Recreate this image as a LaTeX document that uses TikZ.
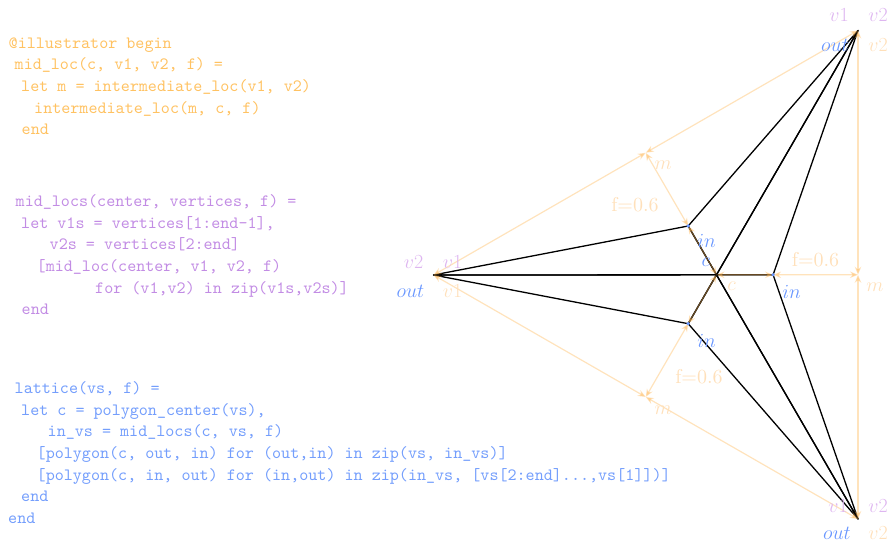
\RequirePackage{fix-cm}
\documentclass[tikz,border=0pt]{standalone}
\usepackage{fontspec}
\newfontfamily\codefont{lmmono10-regular.otf}
\newfontfamily\labfont{lmroman10-regular.otf}
\usetikzlibrary{calc,arrows.meta}
\definecolor{codeor}{RGB}{255,194,98}
\definecolor{codepu}{RGB}{194,140,228}
\definecolor{codebl}{RGB}{116,158,252}
\definecolor{annor}{RGB}{255,184,88}
\definecolor{labor}{RGB}{255,224,186}
\definecolor{labpu}{RGB}{222,182,240}
\definecolor{labbl}{RGB}{104,150,255}
\tikzset{
  code/.style={anchor=base west, inner sep=0pt, font=\fontsize{17.25}{20}\selectfont\codefont},
  lab/.style={inner sep=0pt, anchor=center, font=\fontsize{20}{23}\selectfont\labfont},
  edge/.style={draw=black, line width=1.3pt, line join=round},
  ann/.style={draw=annor, opacity=0.4, line width=1.2pt,
    {Stealth[length=8pt,width=6.5pt]}-{Stealth[length=8pt,width=6.5pt]}},
  dot/.style={fill=labbl},
}
\begin{document}
\begin{tikzpicture}[x=1pt,y=-1pt]
\useasboundingbox (0,0) rectangle (889,545);
% ---- code, block 1
\node[code, text=codeor] (t1) at (8.5,48.3) {@illustrator begin};
\node[code, text=codeor] (t2) at (14.5,70) {mid\_loc(c, v1, v2, f) =};
\node[code, text=codeor] (t3) at (21,91.7) {let m = intermediate\_loc(v1, v2)};
\node[code, text=codeor] (t4) at (34,113.3) {intermediate\_loc(m, c, f)};
\node[code, text=codeor] (t5) at (21.5,135) {end};
% ---- block 2
\node[code, text=codepu] (t6) at (15.5,206.7) {mid\_locs(center, vertices, f) =};
\node[code, text=codepu] (t7) at (21,228.3) {let v1s = vertices[1:end-1],};
\node[code, text=codepu] (t8) at (49.5,250) {v2s = vertices[2:end]};
\node[code, text=codepu] (t9) at (36.5,271.7) {[mid\_loc(center, v1, v2, f)};
\node[code, text=codepu] (t10) at (95,293.3) {for (v1,v2) in zip(v1s,v2s)]};
\node[code, text=codepu] (t11) at (21.5,315) {end};
% ---- block 3
\node[code, text=codebl] (t12) at (14.5,393.3) {lattice(vs, f) =};
\node[code, text=codebl] (t13) at (21,415) {let c = polygon\_center(vs),};
\node[code, text=codebl] (t14) at (47.5,436.7) {in\_vs = mid\_locs(c, vs, f)};
\node[code, text=codebl] (t15) at (36.5,458.4) {[polygon(c, out, in) for (out,in) in zip(vs, in\_vs)]};
\node[code, text=codebl] (t16) at (36.5,480.1) {[polygon(c, in, out) for (in,out) in zip(in\_vs, [vs[2:end]...,vs[1]])]};
\node[code, text=codebl] (t17) at (21,501.8) {end};
\node[code, text=codebl] (t18) at (8,523.5) {end};
% ---- geometry
\coordinate (A) at (858,30.5);
\coordinate (B) at (433.5,275);
\coordinate (C) at (858,519);
\coordinate (c) at (barycentric cs:A=1,B=1,C=1);
\coordinate (m1) at ($(A)!0.5!(B)$);
\coordinate (m2) at ($(B)!0.5!(C)$);
\coordinate (m3) at ($(C)!0.5!(A)$);
\coordinate (i1) at ($(m1)!0.6!(c)$);
\coordinate (i2) at ($(m2)!0.6!(c)$);
\coordinate (i3) at ($(m3)!0.6!(c)$);
% ---- black triangles
\draw[edge] (c) -- (A) -- (i1) -- cycle;
\draw[edge] (c) -- (i1) -- (B) -- cycle;
\draw[edge] (c) -- (B) -- (i2) -- cycle;
\draw[edge] (c) -- (i2) -- (C) -- cycle;
\draw[edge] (c) -- (C) -- (i3) -- cycle;
\draw[edge] (c) -- (i3) -- (A) -- cycle;
% ---- orange annotations
\draw[ann] (B) -- (m1);
\draw[ann] (A) -- (m1);
\draw[ann] (B) -- (m2);
\draw[ann] (C) -- (m2);
\draw[ann] (A) -- (m3);
\draw[ann] (C) -- (m3);
\draw[ann] (m1) -- (i1);
\draw[ann] (m2) -- (i2);
\draw[ann] (m3) -- (i3);
\draw[ann] (i1) -- (c);
\draw[ann] (i2) -- (c);
\draw[ann] (i3) -- (c);
% ---- blue dots
\fill[dot] (i1) circle (1.8);
\fill[dot] (i2) circle (1.8);
\fill[dot] (i3) circle (1.8);
% ---- vertex labels
\node[lab, text=labpu] (Aa) at ($(A)+(-19,-15)$) {$v1$};
\node[lab, text=labpu] (Ab) at ($(A)+(20,-15)$) {$v2$};
\node[lab, text=labbl] (Ac) at ($(A)+(-23,14.5)$) {$out$};
\node[lab, text=labor] (Ad) at ($(A)+(20,14.5)$) {$v2$};
\node[lab, text=labpu] (Ba) at ($(B)+(-20,-13)$) {$v2$};
\node[lab, text=labpu] (Bb) at ($(B)+(19,-13)$) {$v1$};
\node[lab, text=labbl] (Bc) at ($(B)+(-23,16)$) {$out$};
\node[lab, text=labor] (Bd) at ($(B)+(19,16)$) {$v1$};
\node[lab, text=labpu] (Ca) at ($(C)+(-20,-13)$) {$v1$};
\node[lab, text=labpu] (Cb) at ($(C)+(20,-13)$) {$v2$};
\node[lab, text=labbl] (Cc) at ($(C)+(-21,14)$) {$out$};
\node[lab, text=labor] (Cd) at ($(C)+(20,14)$) {$v2$};
% ---- m, in, c, f labels
\node[lab, text=labor] (m1l) at ($(m1)+(17.5,12)$) {$m$};
\node[lab, text=labor] (m2l) at ($(m2)+(17.5,13)$) {$m$};
\node[lab, text=labor] (m3l) at ($(m3)+(17,12)$) {$m$};
\node[lab, text=labbl] (i1l) at ($(i1)+(18.4,15.2)$) {$in$};
\node[lab, text=labbl] (i2l) at ($(i2)+(18.4,16.8)$) {$in$};
\node[lab, text=labbl] (i3l) at ($(i3)+(18.5,16.8)$) {$in$};
\node[lab, text=labbl] (cb) at ($(c)+(-10.7,-12.3)$) {$c$};
\node[lab, text=labor] (co) at ($(c)+(15,11.7)$) {$c$};
\node[lab, text=labor] (f1) at ($($(m1)!0.5!(i1)$)+(-32,15.6)$) {f=0.6};
\node[lab, text=labor] (f2) at ($($(m2)!0.5!(i2)$)+(32,16)$) {f=0.6};
\node[lab, text=labor] (f3) at ($($(m3)!0.5!(i3)$)+(0,-15)$) {f=0.6};
\end{tikzpicture}
\end{document}
